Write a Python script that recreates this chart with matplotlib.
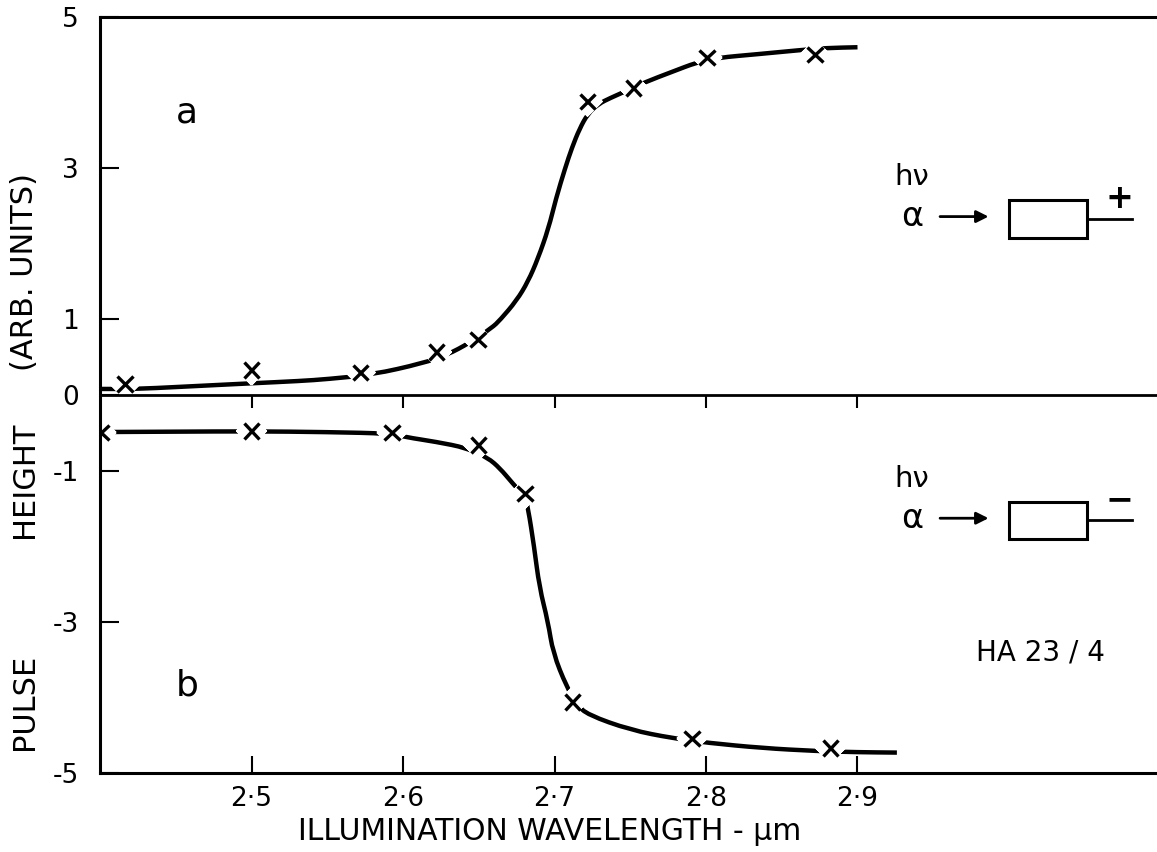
import matplotlib.pyplot as plt
from matplotlib import patheffects as pe
from matplotlib.patches import Rectangle, PathPatch
from matplotlib.path import Path

# curve a (positive pulses): measured points and hand-drawn line
a_x = [2.4165, 2.5, 2.572, 2.622, 2.6495, 2.722, 2.752, 2.8007, 2.872]
a_y = [0.145, 0.33, 0.30, 0.57, 0.73, 3.88, 4.06, 4.46, 4.50]
a_line_x = [2.400, 2.424, 2.45, 2.50, 2.532, 2.55, 2.58, 2.613, 2.629, 2.644, 2.6587,
            2.664, 2.675, 2.6825, 2.689, 2.696, 2.701, 2.707, 2.7115, 2.7165, 2.722,
            2.729, 2.737, 2.745, 2.76, 2.777, 2.794, 2.807, 2.835, 2.861, 2.879, 2.90]
a_line_y = [0.08, 0.08, 0.105, 0.155, 0.185, 0.21, 0.27, 0.42, 0.53, 0.69, 0.89,
            0.99, 1.25, 1.50, 1.80, 2.20, 2.60, 3.00, 3.27, 3.52, 3.72,
            3.85, 3.93, 4.00, 4.14, 4.27, 4.40, 4.46, 4.51, 4.56, 4.59, 4.60]

# curve b (negative pulses)
b_x = [2.4007, 2.5, 2.5927, 2.650, 2.6805, 2.712, 2.7908, 2.882]
b_y = [-0.50, -0.476, -0.50, -0.66, -1.30, -4.06, -4.54, -4.67]
b_line_x = [2.400, 2.45, 2.50, 2.55, 2.5927, 2.6013, 2.622, 2.642, 2.656, 2.664, 2.672,
            2.6805, 2.6825, 2.6865, 2.690, 2.6957, 2.699, 2.708, 2.715, 2.722, 2.750,
            2.778, 2.8007, 2.837, 2.873, 2.90, 2.926]
b_line_y = [-0.49, -0.485, -0.48, -0.49, -0.51, -0.556, -0.62, -0.70, -0.83, -0.97, -1.16,
            -1.35, -1.49, -2.00, -2.54, -3.00, -3.41, -3.86, -4.10, -4.23, -4.43,
            -4.54, -4.60, -4.67, -4.71, -4.725, -4.73]

xticks = [2.5, 2.6, 2.7, 2.8, 2.9]
xticklabels = ["2·5", "2·6", "2·7", "2·8", "2·9"]
yticks = [5, 3, 1, 0, -1, -3, -5]
yticklabels = ["5", "3", "1", "0", "-1", "-3", "-5"]

plt.rcParams['font.family'] = ['DejaVu Sans']


def smooth_path(xs, ys):
    # quadratic bezier through midpoints, read points used as control points
    pts = list(zip(xs, ys))
    verts = [pts[0]]
    codes = [Path.MOVETO]
    verts.append(((pts[0][0] + pts[1][0]) / 2, (pts[0][1] + pts[1][1]) / 2))
    codes.append(Path.LINETO)
    for i in range(1, len(pts) - 1):
        nxt = ((pts[i][0] + pts[i + 1][0]) / 2, (pts[i][1] + pts[i + 1][1]) / 2)
        verts += [pts[i], nxt]
        codes += [Path.CURVE3, Path.CURVE3]
    verts.append(pts[-1])
    codes.append(Path.LINETO)
    return Path(verts, codes)


fig = plt.figure(figsize=(11.57, 8.52), dpi=100)
ax = fig.add_axes([100 / 1157, 1 - 773 / 852, 1060.5 / 1157, 756 / 852])
ax.set_xlim(2.4, 3.1)
ax.set_ylim(-5, 5)

# white halo round the crosses leaves the gaps seen in the drawn curve
halo = [pe.withStroke(linewidth=16, foreground='white')]
for lx, ly, mx, my in [(a_line_x, a_line_y, a_x, a_y), (b_line_x, b_line_y, b_x, b_y)]:
    ax.add_patch(PathPatch(smooth_path(lx, ly), fill=False, lw=3.2, ec='black',
                           capstyle='butt', zorder=2))
    ax.plot(mx, my, ls='none', marker='x', ms=11, mew=2.4, color='black',
            path_effects=halo, zorder=2.2)

# zero line with downward ticks
ax.axhline(0, color='black', lw=2, zorder=2.4)
ax.vlines(xticks, -0.17, 0, color='black', lw=1.5)

for s in ['left', 'top', 'bottom']:
    ax.spines[s].set_linewidth(2.2)
ax.spines['right'].set_visible(False)

ax.set_xticks(xticks)
ax.set_xticklabels(xticklabels)
ax.set_yticks(yticks)
ax.set_yticklabels(yticklabels)
ax.tick_params(axis='x', direction='in', length=12, width=1.5, pad=9, labelsize=19)
ax.tick_params(axis='y', direction='in', length=14, width=1.5, pad=15, labelsize=19)

# axis titles
fig.text(550 / 1157, 1 - 832 / 852, "ILLUMINATION WAVELENGTH - μm", fontsize=21.5,
         ha='center', va='center')
fig.text(25 / 1157, 1 - 702 / 852, "PULSE", fontsize=22, rotation=90, ha='center', va='center')
fig.text(25 / 1157, 1 - 480 / 852, "HEIGHT", fontsize=22, rotation=90, ha='center', va='center')
fig.text(25 / 1157, 1 - 272 / 852, "(ARB. UNITS)", fontsize=22, rotation=90,
         ha='center', va='center')

# panel letters
ax.text(2.4574, 3.74, "a", fontsize=26, ha='center', va='center')
ax.text(2.4574, -3.84, "b", fontsize=26, ha='center', va='center')

# detector sketches
for yc, sign in [(2.33, "+"), (-1.66, "−")]:
    ax.text(2.936, yc + 0.55, "hν", fontsize=21, ha='center', va='center')
    ax.text(2.936, yc + 0.03, "α", fontsize=24, ha='center', va='center')
    ax.annotate("", xy=(2.9865, yc + 0.03), xytext=(2.9545, yc + 0.03),
                arrowprops=dict(arrowstyle='-|>', lw=2, color='black',
                                mutation_scale=18, shrinkA=0, shrinkB=0))
    ax.add_patch(Rectangle((3.0, yc - 0.25), 0.0515, 0.50, fill=False, lw=2.2))
    ax.plot([3.0515, 3.081], [yc, yc], color='black', lw=2)
    ax.text(3.073, yc + 0.27, sign, fontsize=24, fontweight='bold', ha='center', va='center')

ax.text(3.0205, -3.40, "HA 23 / 4", fontsize=20, ha='center', va='center')

fig.savefig("out.png", dpi=100)
